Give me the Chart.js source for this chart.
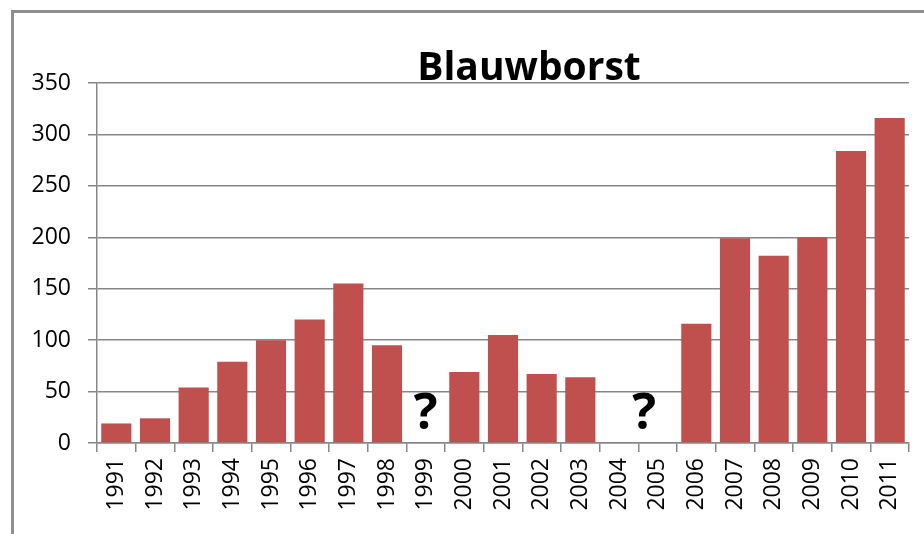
<!DOCTYPE html>
<html>
<head>
<meta charset="utf-8">
<script src="https://cdn.jsdelivr.net/npm/chart.js@4.4.1/dist/chart.umd.min.js"></script>
<style>
  body { margin: 0; background: #fff; }
  canvas { display: block; }
</style>
</head>
<body>
<canvas id="chart" width="924" height="534"></canvas>
<script>
// --- data ---
const jaren = ['1991', '1992', '1993', '1994', '1995', '1996', '1997', '1998', '1999', '2000', '2001',
               '2002', '2003', '2004', '2005', '2006', '2007', '2008', '2009', '2010', '2011'];
const aantallen = [19, 24, 54, 79, 100, 120, 155, 95, null, 69, 105,
                   67, 64, null, null, 116, 199, 182, 200, 284, 316];
const yTicks = [0, 50, 100, 150, 200, 250, 300, 350];
const titel = 'Blauwborst';
// jaren zonder telling: positie (categorie-index) en tekst
const onbekendPos = [8, 13.65];
const onbekendTekst = ['?', '?'];

const grijs = '#878787';
const fontNaam = '"Open Sans", Lato, sans-serif';

// kader + titel + vraagtekens
const extraPlugin = {
    id: 'extra',
    beforeDraw(chart) {
        const ctx = chart.ctx;
        ctx.save();
        ctx.fillStyle = '#fff';
        ctx.fillRect(0, 0, chart.width, chart.height);
        ctx.strokeStyle = '#8e8e8e';
        ctx.lineWidth = 3;
        ctx.strokeRect(12.5, 11.5, 1000, 600);
        ctx.restore();
    },
    afterDraw(chart) {
        const ctx = chart.ctx;
        const xs = chart.scales.x;
        const ys = chart.scales.y;
        ctx.save();
        ctx.fillStyle = '#000';
        ctx.textAlign = 'center';
        ctx.textBaseline = 'alphabetic';
        ctx.font = 'bold 39px ' + fontNaam;
        ctx.fillText(titel, 529, 80);
        ctx.font = 'bold 50px ' + fontNaam;
        onbekendPos.forEach((p, i) => {
            ctx.fillText(onbekendTekst[i], xs.getPixelForValue(p), ys.getPixelForValue(14));
        });
        ctx.restore();
    }
};

new Chart(document.getElementById('chart'), {
    type: 'bar',
    data: {
        labels: jaren,
        datasets: [{
            data: aantallen,
            backgroundColor: '#C0504D',
            borderWidth: 0,
            categoryPercentage: 1,
            barPercentage: 0.78
        }]
    },
    options: {
        responsive: false,
        animation: false,
        layout: { padding: { top: 83, right: 15, left: 0, bottom: 0 } },
        plugins: {
            legend: { display: false },
            tooltip: { enabled: false }
        },
        scales: {
            x: {
                afterFit: s => { s.height = 91; },
                grid: {
                    offset: true,
                    drawOnChartArea: false,
                    tickLength: 9,
                    color: grijs,
                    lineWidth: 1.5
                },
                border: { color: grijs, width: 1.5 },
                ticks: {
                    minRotation: 90,
                    maxRotation: 90,
                    autoSkip: false,
                    padding: 6,
                    color: '#000',
                    font: { family: fontNaam, size: 23 }
                }
            },
            y: {
                min: 0,
                max: 350,
                afterFit: s => { s.width = 97; },
                afterBuildTicks: s => { s.ticks = yTicks.map(v => ({ value: v })); },
                grid: { color: grijs, lineWidth: 1.5, tickLength: 9 },
                border: { color: grijs, width: 1.5 },
                ticks: {
                    padding: 17,
                    color: '#000',
                    font: { family: fontNaam, size: 23 }
                }
            }
        }
    },
    plugins: [extraPlugin]
});
</script>
</body>
</html>
